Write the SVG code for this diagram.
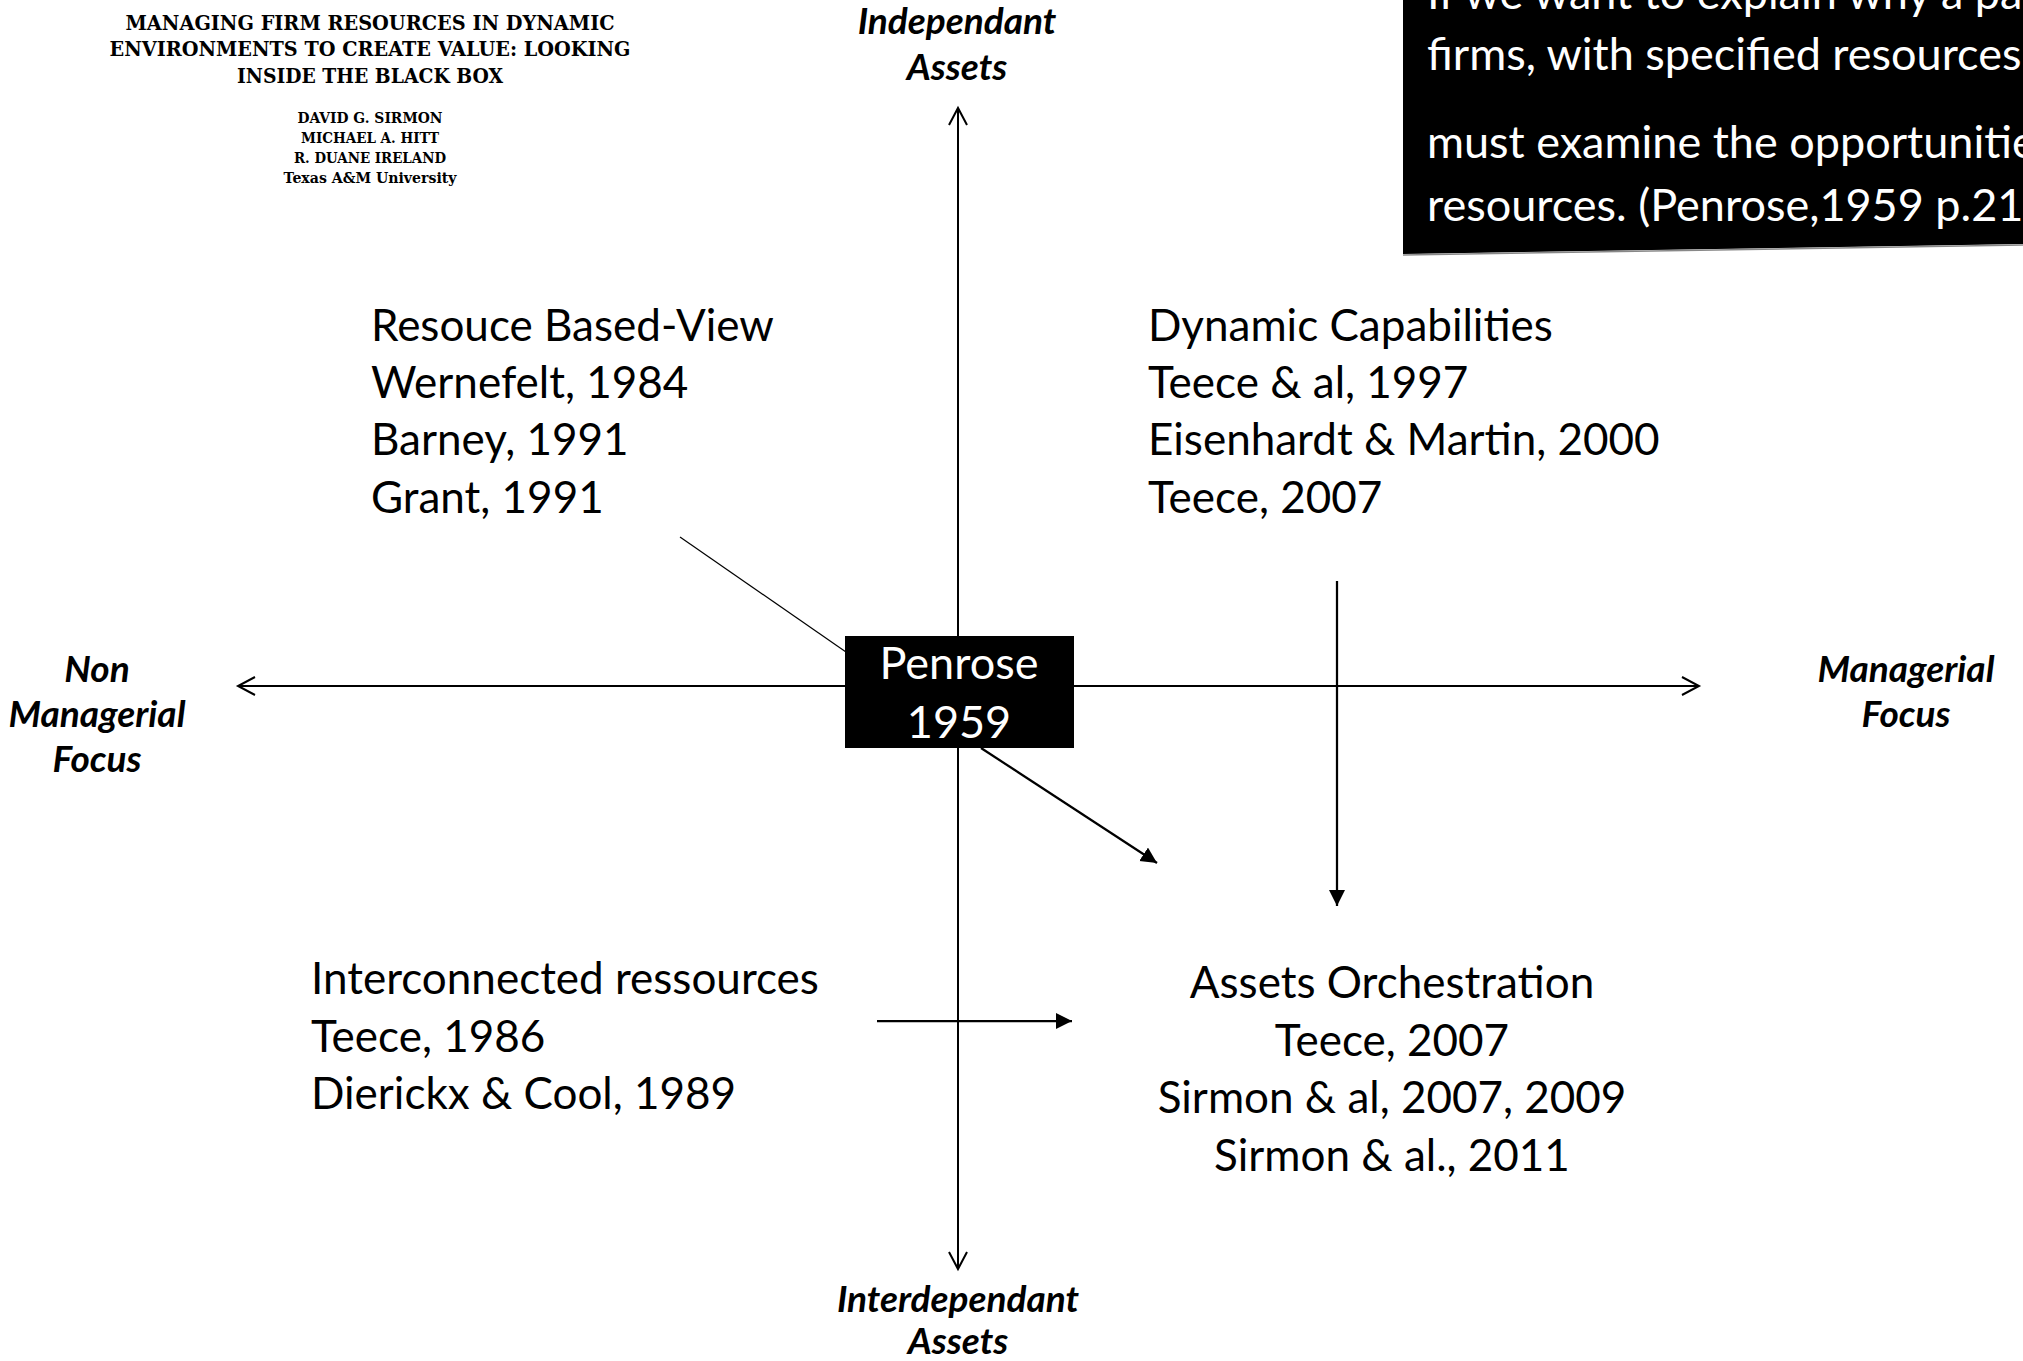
<svg xmlns="http://www.w3.org/2000/svg" width="2023" height="1361" viewBox="0 0 2023 1361">
<defs>
<style>
.q{font-family:Lato,"Open Sans",sans-serif;font-size:44px;fill:#000}
.ax{font-family:Lato,"Open Sans",sans-serif;font-size:37px;font-weight:bold;font-style:italic;fill:#000;text-anchor:middle}
.tt{font-family:"DejaVu Serif","Liberation Serif",serif;font-weight:bold;fill:#000;text-anchor:middle}
.w{font-family:Lato,"Open Sans",sans-serif;font-size:45px;fill:#fff}
.axis{stroke:#000;stroke-width:2;fill:none}
.con{stroke:#000;stroke-width:2.25;fill:none}
</style>
<marker id="open" markerUnits="userSpaceOnUse" markerWidth="22" markerHeight="24" refX="18" refY="12" orient="auto-start-reverse">
<path d="M1,3 L18,12 L1,21" fill="none" stroke="#000" stroke-width="2"/>
</marker>
<marker id="fill" markerUnits="userSpaceOnUse" markerWidth="18" markerHeight="18" refX="16" refY="8" orient="auto">
<path d="M0,0 L16,8 L0,16 z" fill="#000"/>
</marker>
</defs>
<rect x="0" y="0" width="2023" height="1361" fill="#fff"/>

<g id="paper-title">
<text class="tt" x="370" y="30" font-size="21" textLength="489" lengthAdjust="spacingAndGlyphs">MANAGING FIRM RESOURCES IN DYNAMIC</text>
<text class="tt" x="370" y="56" font-size="21" textLength="521" lengthAdjust="spacingAndGlyphs">ENVIRONMENTS TO CREATE VALUE: LOOKING</text>
<text class="tt" x="370" y="83" font-size="21" textLength="266" lengthAdjust="spacingAndGlyphs">INSIDE THE BLACK BOX</text>
<text class="tt" x="370" y="123" font-size="14" textLength="145" lengthAdjust="spacingAndGlyphs">DAVID G. SIRMON</text>
<text class="tt" x="370" y="143" font-size="14" textLength="138" lengthAdjust="spacingAndGlyphs">MICHAEL A. HITT</text>
<text class="tt" x="370" y="163" font-size="14" textLength="152" lengthAdjust="spacingAndGlyphs">R. DUANE IRELAND</text>
<text class="tt" x="370" y="183" font-size="14" textLength="173" lengthAdjust="spacingAndGlyphs">Texas A&amp;M University</text>
</g>

<g id="quote">
<polygon points="1403,-5 2030,-5 2030,244 1403,254" fill="#000"/>
<line x1="1403" y1="255" x2="2030" y2="245" stroke="#888" stroke-width="1.5"/>
<text class="w" x="1427" y="9">If we want to explain why a pa</text>
<text class="w" x="1427" y="70">firms, with specified resources</text>
<text class="w" x="1427" y="158">must examine the opportunitie</text>
<text class="w" x="1427" y="221">resources. (Penrose,1959 p.21</text>
</g>

<g id="connectors">
<line class="axis" x1="958" y1="1269" x2="958" y2="108" marker-start="url(#open)" marker-end="url(#open)"/>
<line class="axis" x1="238" y1="686" x2="1699" y2="686" marker-start="url(#open)" marker-end="url(#open)"/>
<line x1="680" y1="537" x2="846" y2="652" stroke="#000" stroke-width="1.2"/>
<line class="con" x1="981" y1="748" x2="1157" y2="863" marker-end="url(#fill)"/>
<line class="con" x1="1337" y1="581" x2="1337" y2="906" marker-end="url(#fill)"/>
<line class="con" x1="877" y1="1021" x2="1072" y2="1021" marker-end="url(#fill)"/>
</g>

<g id="penrose">
<rect x="845" y="636" width="229" height="112" fill="#000"/>
<text class="w" x="959" y="679" text-anchor="middle">Penrose</text>
<text class="w" x="959" y="738" text-anchor="middle">1959</text>
</g>

<g id="rbv">
<text class="q" x="371" y="341">Resouce Based-View</text>
<text class="q" x="371" y="398">Wernefelt, 1984</text>
<text class="q" x="371" y="455">Barney, 1991</text>
<text class="q" x="371" y="513">Grant, 1991</text>
</g>

<g id="dynamic">
<text class="q" x="1148" y="341">Dynamic Capabilities</text>
<text class="q" x="1148" y="398">Teece &amp; al, 1997</text>
<text class="q" x="1148" y="455">Eisenhardt &amp; Martin, 2000</text>
<text class="q" x="1148" y="513">Teece, 2007</text>
</g>

<g id="interconnected">
<text class="q" x="311" y="994">Interconnected ressources</text>
<text class="q" x="311" y="1052">Teece, 1986</text>
<text class="q" x="311" y="1109">Dierickx &amp; Cool, 1989</text>
</g>

<g id="orchestration">
<text class="q" x="1392" y="998" text-anchor="middle">Assets Orchestration</text>
<text class="q" x="1392" y="1056" text-anchor="middle">Teece, 2007</text>
<text class="q" x="1392" y="1113" text-anchor="middle">Sirmon &amp; al, 2007, 2009</text>
<text class="q" x="1392" y="1171" text-anchor="middle">Sirmon &amp; al., 2011</text>
</g>

<g id="label-top">
<text class="ax" x="957" y="34">Independant</text>
<text class="ax" x="957" y="80">Assets</text>
</g>
<g id="label-bottom">
<text class="ax" x="958" y="1312">Interdependant</text>
<text class="ax" x="958" y="1354">Assets</text>
</g>
<g id="label-left">
<text class="ax" x="97" y="682">Non</text>
<text class="ax" x="97" y="727">Managerial</text>
<text class="ax" x="97" y="772">Focus</text>
</g>
<g id="label-right">
<text class="ax" x="1906" y="682">Managerial</text>
<text class="ax" x="1906" y="727">Focus</text>
</g>
</svg>
